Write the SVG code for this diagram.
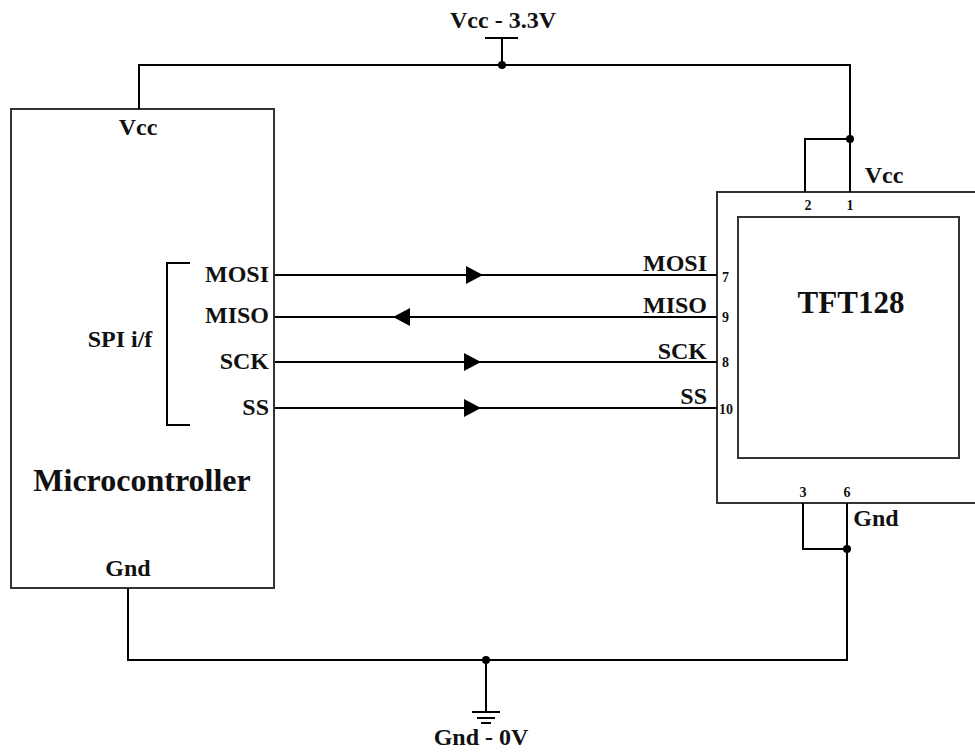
<svg xmlns="http://www.w3.org/2000/svg" width="975" height="752" viewBox="0 0 975 752">
<defs>
<style>
.w{stroke:#000;stroke-width:2;fill:none}
.b{stroke:#333;stroke-width:2;fill:#fff}
.t{font-family:"Liberation Serif",serif;font-weight:bold;fill:#111}
.l{font-size:24px}
.p{font-size:14px}
.d{fill:#000}
</style>
</defs>
<rect width="975" height="752" fill="#fff"/>
<g id="microcontroller">
<rect class="b" x="11" y="109" width="263" height="479"/>
<text class="t l" x="138" y="135" text-anchor="middle">Vcc</text>
<text class="t l" x="128" y="576" text-anchor="middle">Gnd</text>
<text class="t l" x="269" y="282" text-anchor="end">MOSI</text>
<text class="t l" x="269" y="323" text-anchor="end">MISO</text>
<text class="t l" x="269" y="369" text-anchor="end">SCK</text>
<text class="t l" x="269" y="415" text-anchor="end">SS</text>
<path class="w" d="M190,263 H167 V425 H190"/>
<text class="t l" x="120" y="347" text-anchor="middle">SPI i/f</text>
<text class="t" x="142" y="491" text-anchor="middle" font-size="32">Microcontroller</text>
</g>
<g id="tft128">
<rect class="b" x="717" y="192" width="270" height="311"/>
<rect class="b" x="738" y="217" width="221" height="241"/>
<text class="t" x="851" y="313" text-anchor="middle" font-size="31">TFT128</text>
<text class="t l" x="884" y="183" text-anchor="middle">Vcc</text>
<text class="t l" x="876" y="526" text-anchor="middle">Gnd</text>
<text class="t p" x="808" y="210" text-anchor="middle">2</text>
<text class="t p" x="850" y="210" text-anchor="middle">1</text>
<text class="t p" x="803" y="497" text-anchor="middle">3</text>
<text class="t p" x="847" y="497" text-anchor="middle">6</text>
<text class="t p" x="722" y="282">7</text>
<text class="t p" x="722" y="322">9</text>
<text class="t p" x="722" y="367">8</text>
<text class="t p" x="719" y="414">10</text>
<text class="t l" x="707" y="271" text-anchor="end">MOSI</text>
<text class="t l" x="707" y="313" text-anchor="end">MISO</text>
<text class="t l" x="707" y="359" text-anchor="end">SCK</text>
<text class="t l" x="707" y="404" text-anchor="end">SS</text>
</g>
<g id="vcc-supply">
<path class="w" d="M485,38 H518 M502,38 V65"/>
<text class="t l" x="503" y="28" text-anchor="middle">Vcc - 3.3V</text>
</g>
<g id="gnd-supply">
<path class="w" d="M486,660 V712 M472,712 H500 M477,718 H495 M481,723 H491"/>
<text class="t l" x="481" y="745" text-anchor="middle">Gnd - 0V</text>
</g>
<g id="connectors">
<path class="w" d="M139,109 V65 H850 V192"/>
<path class="w" d="M850,139 H805 V192"/>
<path class="w" d="M128,588 V660 H847 V503"/>
<path class="w" d="M847,549 H803 V503"/>
<path class="w" d="M275,275 H717 M275,317 H717 M275,362 H717 M275,408 H717"/>
<circle class="d" cx="502" cy="65" r="4"/>
<circle class="d" cx="850" cy="139" r="4"/>
<circle class="d" cx="847" cy="549" r="4"/>
<circle class="d" cx="486" cy="660" r="4"/>
<path class="d" d="M466,266 L483,275 L466,284 Z"/>
<path class="d" d="M410,308 L393,317 L410,326 Z"/>
<path class="d" d="M464,353 L481,362 L464,371 Z"/>
<path class="d" d="M464,399 L481,408 L464,417 Z"/>
</g>
</svg>
